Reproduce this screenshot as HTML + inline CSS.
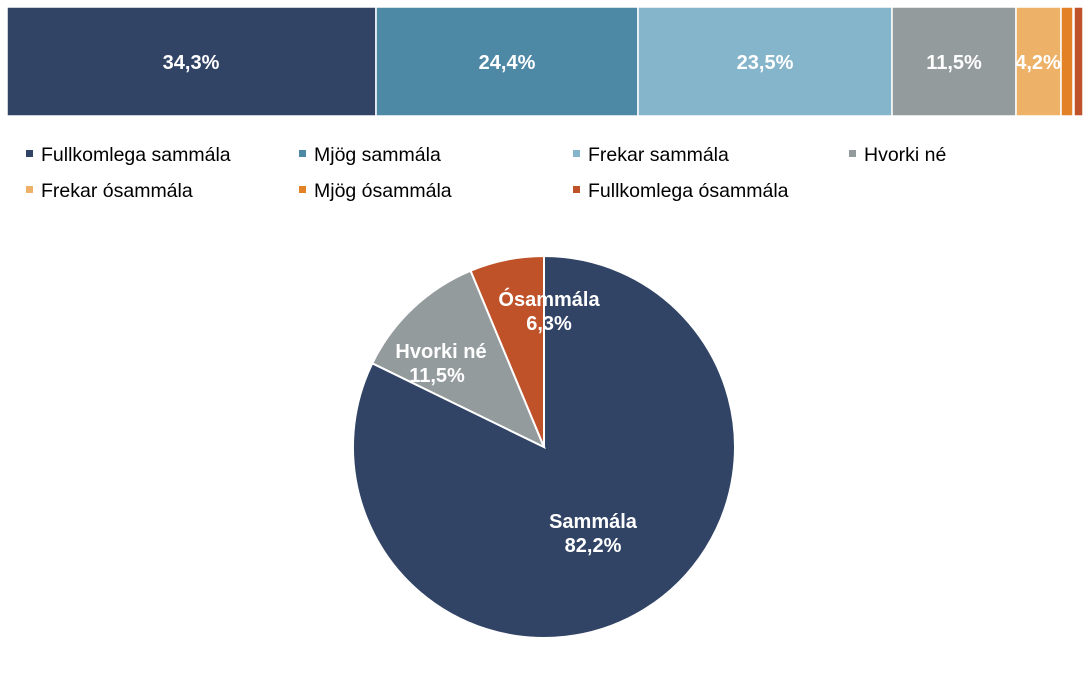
<!DOCTYPE html>
<html><head><meta charset="utf-8"><style>
body{margin:0;background:#fff;width:1092px;height:692px;overflow:hidden;font-family:"Liberation Sans",sans-serif}
</style></head><body>
<svg width="1092" height="692" xmlns="http://www.w3.org/2000/svg" font-family="Liberation Sans, sans-serif">
<g stroke="#fff" stroke-width="1.5">
<rect x="7" y="7" width="369" height="109" fill="#314465"/>
<rect x="376" y="7" width="262" height="109" fill="#4d88a5"/>
<rect x="638" y="7" width="254" height="109" fill="#85b5cb"/>
<rect x="892" y="7" width="124" height="109" fill="#949b9c"/>
<rect x="1016" y="7" width="45" height="109" fill="#edb168"/>
<rect x="1061" y="7" width="12" height="109" fill="#e38126"/>
<rect x="1074" y="7" width="9" height="109" fill="#c0522a"/>
</g>
<g fill="#fff" font-weight="bold" font-size="20" text-anchor="middle">
<text x="191" y="69">34,3%</text>
<text x="507" y="69">24,4%</text>
<text x="765" y="69">23,5%</text>
<text x="954" y="69">11,5%</text>
<text x="1038" y="69">4,2%</text>
</g>
<g font-size="19.5" fill="#000">
<rect x="26" y="150" width="7" height="7" fill="#314465"/><text x="41" y="161">Fullkomlega sammála</text>
<rect x="299" y="150" width="7" height="7" fill="#4d88a5"/><text x="314" y="161">Mjög sammála</text>
<rect x="573" y="150" width="7" height="7" fill="#85b5cb"/><text x="588" y="161">Frekar sammála</text>
<rect x="849" y="150" width="7" height="7" fill="#949b9c"/><text x="864" y="161">Hvorki né</text>
<rect x="26" y="186" width="7" height="7" fill="#edb168"/><text x="41" y="197">Frekar ósammála</text>
<rect x="299" y="186" width="7" height="7" fill="#e38126"/><text x="314" y="197">Mjög ósammála</text>
<rect x="573" y="186" width="7" height="7" fill="#c0522a"/><text x="588" y="197">Fullkomlega ósammála</text>
</g>
<g stroke="#fff" stroke-width="2">
<path d="M544,447 L544,256 A191,191 0 1 1 372.3,363.3 Z" fill="#314465"/>
<path d="M544,447 L372.3,363.3 A191,191 0 0 1 470.6,270.7 Z" fill="#949b9c"/>
<path d="M544,447 L470.6,270.7 A191,191 0 0 1 544,256 Z" fill="#c0522a"/>
</g>
<g fill="#fff" font-weight="bold" font-size="20" text-anchor="middle">
<text x="593" y="528">Sammála</text><text x="593" y="552">82,2%</text>
<text x="441" y="358">Hvorki né</text><text x="437" y="382">11,5%</text>
<text x="549" y="306">Ósammála</text><text x="549" y="330">6,3%</text>
</g>
</svg>
</body></html>
